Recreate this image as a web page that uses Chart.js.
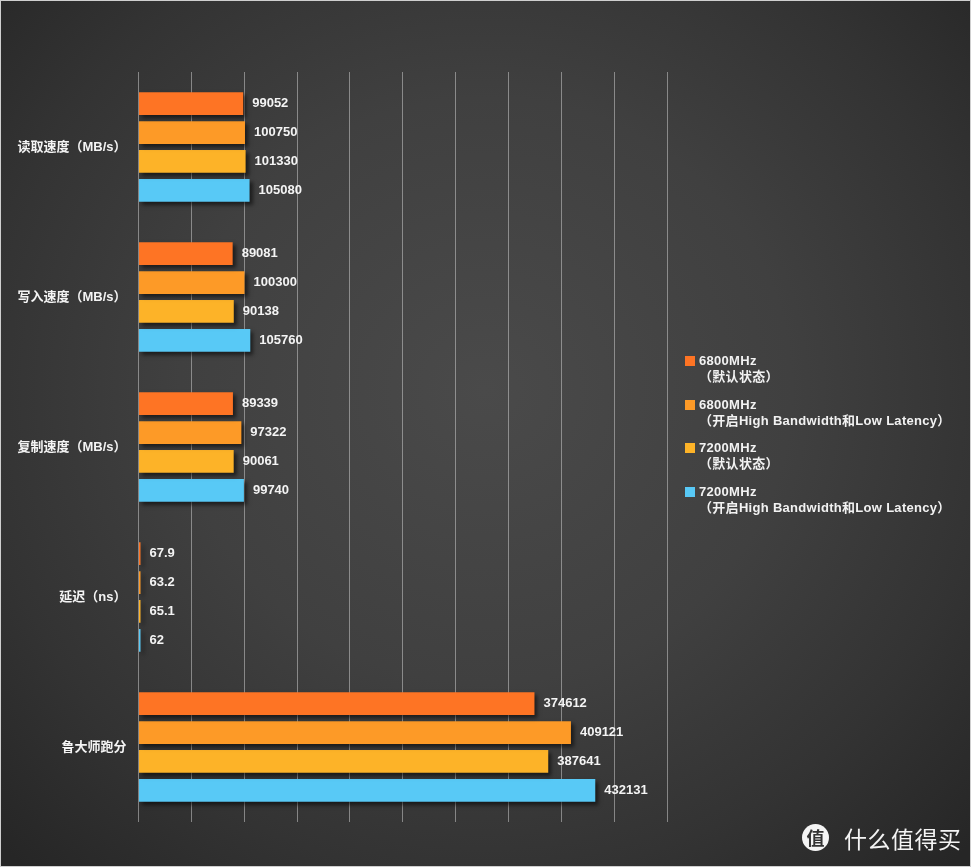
<!DOCTYPE html>
<html>
<head>
<meta charset="utf-8">
<script src="https://cdn.jsdelivr.net/npm/chart.js@4.4.0/dist/chart.umd.min.js"></script>
<style>
  html, body { margin: 0; padding: 0; }
  body {
    width: 971px; height: 867px; position: relative; overflow: hidden;
    background: radial-gradient(ellipse 70% 75% at 50% 45%, #4a4a4a 0%, #404040 45%, #333 75%, #262626 100%);
    font-family: "Liberation Sans", Arial, "Noto Sans CJK SC", sans-serif;
    box-sizing: border-box; border: 1px solid #cfcfcf;
  }
  #wrap { position: absolute; left: 0; top: 0; width: 971px; height: 867px; }
  #legend { position: absolute; left: 684px; top: 352px; color: #f2f2f2; font-size: 13px; font-weight: bold; }
  .item { position: relative; height: 43.5px; }
  .box { position: absolute; left: 0; top: 3px; width: 10px; height: 10px; }
  .txt { position: absolute; left: 14px; top: 0; line-height: 16px; white-space: pre; letter-spacing: 0.3px; }
  #mark { position: absolute; left: 801px; top: 822px; color: #f4f4f4; font-size: 23px; font-family: "Noto Sans CJK SC", sans-serif; }
  #mark .logo { position: absolute; left: 0; top: 1px; width: 27px; height: 27px; border-radius: 50%; background: #f4f4f4; color: #333; font-size: 18px; line-height: 27px; text-align: center; font-weight: bold; }
  #mark .name { position: absolute; left: 42px; top: -2px; white-space: nowrap; letter-spacing: 0.5px; }
</style>
</head>
<body>
<div id="wrap"><canvas id="myGraph" width="971" height="867"></canvas></div>
<div id="legend"></div>
<div id="mark"><div class="logo">值</div><div class="name">什么值得买</div></div>
<script>
const categories = ['读取速度（MB/s）', '写入速度（MB/s）', '复制速度（MB/s）', '延迟（ns）', '鲁大师跑分'];
const seriesNames = [
  '6800MHz\n（默认状态）',
  '6800MHz\n（开启High Bandwidth和Low Latency）',
  '7200MHz\n（默认状态）',
  '7200MHz\n（开启High Bandwidth和Low Latency）'
];
const s6800Default = [99052, 89081, 89339, 67.9, 374612];
const s6800Tuned = [100750, 100300, 97322, 63.2, 409121];
const s7200Default = [101330, 90138, 90061, 65.1, 387641];
const s7200Tuned = [105080, 105760, 99740, 62, 432131];
const colors = ['#fe7424', '#fd9a27', '#fdb328', '#58c9f6'];

const font = '"Liberation Sans", Arial, "Noto Sans CJK SC", sans-serif';

// legend as html, two lines each
const legend = document.getElementById('legend');
seriesNames.forEach((name, i) => {
    legend.innerHTML += `<div class="item"><div class="box" style="background:${colors[i]}"></div><div class="txt">${name}</div></div>`;
});

const barShadow = {
    id: 'barShadow',
    beforeDatasetsDraw(chart) {
        const ctx = chart.ctx;
        ctx.save();
        ctx.shadowColor = 'rgba(0,0,0,0.55)';
        ctx.shadowBlur = 4;
        ctx.shadowOffsetX = 3;
        ctx.shadowOffsetY = 3;
    },
    afterDatasetsDraw(chart) {
        const ctx = chart.ctx;
        ctx.restore();
        ctx.save();
        ctx.fillStyle = '#f4f4f4';
        ctx.font = 'bold 13px ' + font;
        ctx.textAlign = 'left';
        ctx.textBaseline = 'middle';
        chart.data.datasets.forEach((ds, i) => {
            chart.getDatasetMeta(i).data.forEach((bar, j) => {
                ctx.fillText(String(ds.data[j]), bar.x + 9, bar.y);
            });
        });
        ctx.restore();
    }
};

const ctx = document.getElementById('myGraph').getContext('2d');
const data = {
    labels: categories,
    datasets: [
        { label: seriesNames[0], data: s6800Default, backgroundColor: colors[0] },
        { label: seriesNames[1], data: s6800Tuned, backgroundColor: colors[1] },
        { label: seriesNames[2], data: s7200Default, backgroundColor: colors[2] },
        { label: seriesNames[3], data: s7200Tuned, backgroundColor: colors[3] },
    ]
};
let myBarChart = new Chart(ctx, {
    type: 'bar',
    data: data,
    options: {
        indexAxis: 'y',
        responsive: false,
        animation: false,
        layout: { padding: { left: 0, right: 305, top: 71, bottom: 46 } },
        datasets: { bar: { categoryPercentage: 0.77, barPercentage: 0.79, minBarLength: 2 } },
        plugins: { legend: { display: false }, tooltip: { enabled: false } },
        scales: {
            x: {
                min: 0, max: 500000,
                ticks: { display: false, stepSize: 50000 },
                grid: { color: 'rgba(200,200,200,0.55)', lineWidth: 1, drawTicks: false },
                border: { display: false },
                afterFit(scale) { scale.height = 0; }
            },
            y: {
                ticks: { color: '#f4f4f4', font: { size: 13, weight: 'bold', family: font }, padding: 12 },
                grid: { display: false, drawTicks: false },
                border: { display: false },
                afterFit(scale) { scale.width = 137.5; }
            }
        }
    },
    plugins: [barShadow]
});
</script>
</body>
</html>
